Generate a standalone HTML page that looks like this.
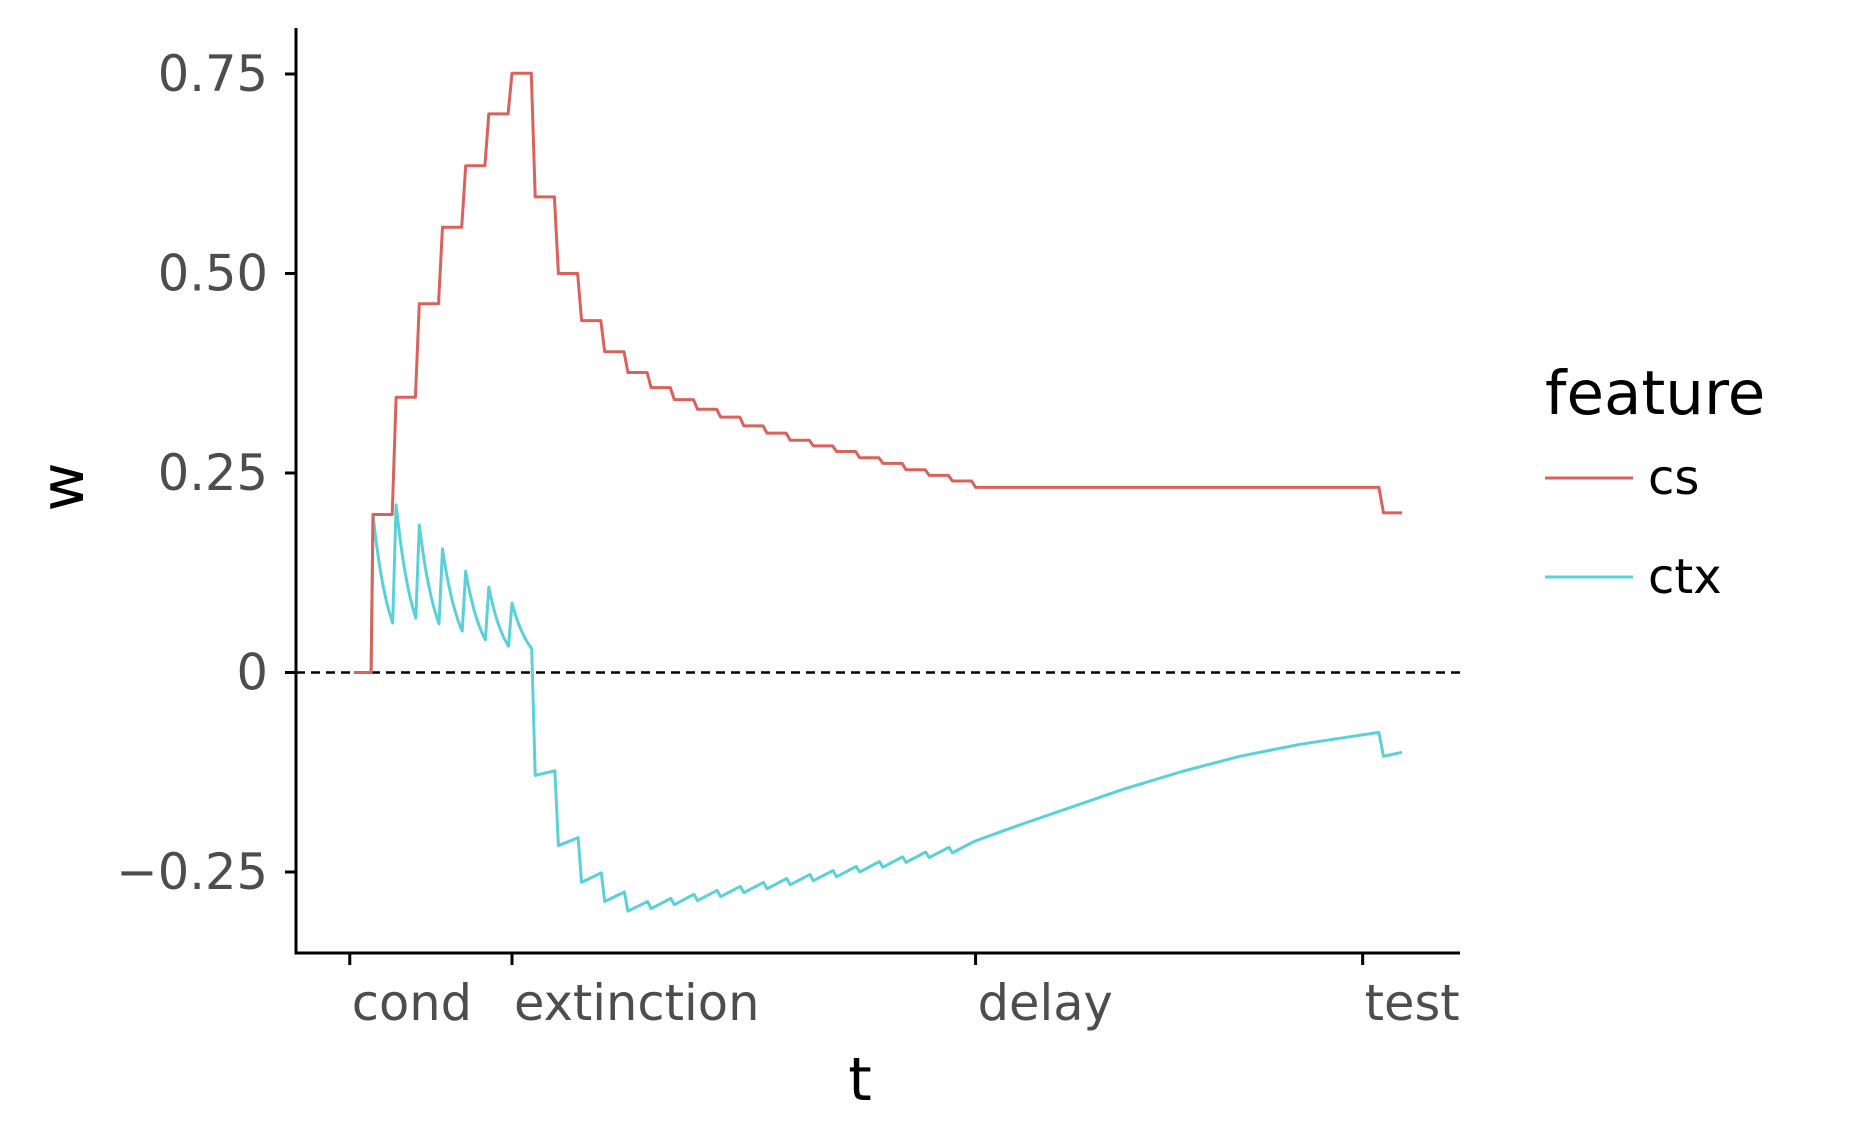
<!DOCTYPE html>
<html><head><meta charset="utf-8"><style>
html,body{margin:0;padding:0;background:#fff;}
svg{display:block;font-family:"DejaVu Sans","Liberation Sans",sans-serif;}
</style></head><body>
<svg id="chart" width="1852" height="1145" viewBox="0 0 1852 1145" xmlns="http://www.w3.org/2000/svg">
<g id="plot"></g>
</svg>
<script>
// ---- data ----
const xTickLabels = ["cond", "extinction", "delay", "test"];
const xTickValues = [-1, 6, 26, 42.7];
const yTickValues = [0.75, 0.5, 0.25, 0, -0.25];
const yTickLabels = ["0.75", "0.50", "0.25", "0", "\u22120.25"];
const seriesNames = ["cs", "ctx"];
// cs weight per trial (cond trials 0-6, extinction trials 7-25)
const csTrials = [0.198,0.345,0.462,0.558,0.635,0.700,0.751,
  0.596,0.500,0.441,0.402,0.376,0.357,0.342,0.330,0.320,0.309,0.300,0.291,0.284,0.277,0.269,0.262,0.254,0.247,0.240];
const csDelay = 0.232;
const csTest = 0.200;
// ctx during conditioning: peak at trial start, trough at trial end
const ctxCondPeak = [0.198,0.210,0.185,0.155,0.127,0.107,0.087];
const ctxCondTrough = [0.062,0.068,0.061,0.052,0.041,0.033,0.030];
// ctx during extinction (trials 7-25): value at trial start and end
const ctxExtLow = [-0.129,-0.217,-0.263,-0.287,-0.299,-0.296,-0.291,-0.286,-0.281,-0.276,-0.271,-0.266,-0.261,-0.256,-0.250,-0.244,-0.238,-0.232,-0.226];
const ctxExtHigh = [-0.123,-0.207,-0.251,-0.275,-0.287,-0.283,-0.278,-0.273,-0.268,-0.263,-0.258,-0.253,-0.248,-0.243,-0.237,-0.231,-0.225,-0.219,-0.213];
// ctx during delay
const ctxDelayT = [26, 28, 29.8, 32.3, 34.9, 37.4, 40, 43.4];
const ctxDelayW = [-0.211, -0.190, -0.172, -0.147, -0.124, -0.105, -0.090, -0.075];
const ctxTest = [-0.105, -0.100];

// ---- scales ----
const X0=296, X1=1460, T0=-3.32, T1=46.9;
const xS = t => X0 + (t - T0) * (X1 - X0) / (T1 - T0);
const Y0val = 672.5, perUnit = 798;
const yS = w => Y0val - w * perUnit;
const svg = document.getElementById('chart');
const NS = "http://www.w3.org/2000/svg";
function mk(tag, attrs, parent){ const e=document.createElementNS(NS,tag); for(const k in attrs) e.setAttribute(k,attrs[k]); (parent||svg).appendChild(e); return e; }

const zl = mk('line',{x1:X0,x2:X1,y1:yS(0),y2:yS(0),stroke:'#000','stroke-width':2.6,'stroke-dasharray':'9 6'});



const HOLD=0.83;
let cs=[[-0.82,0],[-0.08,0]];
csTrials.forEach((v,k)=>{ cs.push([k,v]); cs.push([k+HOLD,v]); });
cs.push([26,csDelay]); cs.push([43.4,csDelay]); cs.push([43.6,csTest]); cs.push([44.4,csTest]);

let ctx=[[-0.82,0],[-0.08,0]];
ctxCondPeak.forEach((p,k)=>{
  const tr=ctxCondTrough[k], a=Math.log(p/tr)/0.85;
  for(let i=0;i<=10;i++){ const s=0.85*i/10; ctx.push([k+s, p*Math.exp(-a*s)]); }
});
ctxExtLow.forEach((lo,i)=>{ const k=7+i; ctx.push([k,lo]); ctx.push([k+0.85,ctxExtHigh[i]]); });
ctxDelayT.forEach((t,i)=>ctx.push([t,ctxDelayW[i]]));
ctx.push([43.6,ctxTest[0]]); ctx.push([44.4,ctxTest[1]]);

const toPath = pts => pts.map((p,i)=>(i?'L':'M')+xS(p[0]).toFixed(1)+','+yS(p[1]).toFixed(1)).join('');
const lc = mk('path',{d:toPath(ctx),fill:'none',stroke:'#5ad1d9','stroke-width':3,'stroke-linejoin':'round'});


const ls = mk('path',{d:toPath(cs),fill:'none',stroke:'#d9625b','stroke-width':3,'stroke-linejoin':'round'});



const ya = mk('line',{x1:X0,x2:X0,y1:28,y2:954,stroke:'#000','stroke-width':3});


const xa = mk('line',{x1:X0-1.5,x2:X1,y1:953,y2:953,stroke:'#000','stroke-width':3});


yTickValues.forEach((v,i)=>{
  const tk=mk('line',{x1:X0-11,x2:X0,y1:yS(v),y2:yS(v),stroke:'#000','stroke-width':3});
  
  
  const tx=mk('text',{x:268,y:yS(v)+17,'text-anchor':'end','font-size':49.5,fill:'#4d4d4d'});
  tx.textContent=yTickLabels[i];
  
  
});
xTickValues.forEach((v,i)=>{
  const tk=mk('line',{x1:xS(v),x2:xS(v),y1:953,y2:965,stroke:'#000','stroke-width':3});
  
  
  const tx=mk('text',{x:xS(v)+2,y:1020,'text-anchor':'start','font-size':49.5,fill:'#4d4d4d'});
  tx.textContent=xTickLabels[i];
  
  
});
const xt=mk('text',{x:860,y:1100,'text-anchor':'middle','font-size':60,fill:'#000'});
xt.textContent='t';


const yt=mk('text',{x:0,y:0,'text-anchor':'middle','font-size':60,fill:'#000',transform:'translate(83,487) rotate(-90)'});
yt.textContent='w';



const lg=mk('g',{});


const lt=mk('text',{x:1545,y:414,'font-size':61,fill:'#000'},lg);
lt.textContent='feature';


const cols=['#d9625b','#5ad1d9'], ly=[478,577];
seriesNames.forEach((n,i)=>{
  const g=mk('g',{},lg);
  
  
  mk('line',{x1:1545,x2:1633,y1:ly[i],y2:ly[i],stroke:cols[i],'stroke-width':3},g);
  const t=mk('text',{x:1648,y:ly[i]+16,'font-size':48,fill:'#000'},g);
  t.textContent=n;
});
</script>
</body></html>
